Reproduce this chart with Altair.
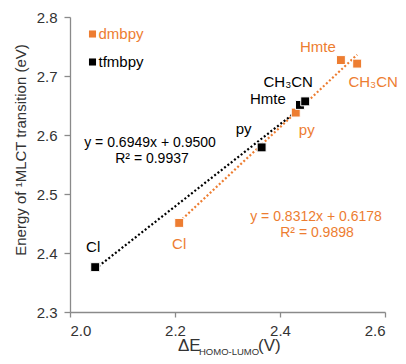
import altair as alt
import pandas as pd

series_names = ["dmbpy", "tfmbpy"]
series_colors = ["#ED7D31", "#000000"]

ligands = ["Cl", "py", "Hmte", "CH₃CN"]
dmbpy_x = [2.208, 2.430, 2.516, 2.547]
dmbpy_y = [2.451, 2.638, 2.727, 2.721]
tfmbpy_x = [2.048, 2.365, 2.438, 2.448]
tfmbpy_y = [2.376, 2.579, 2.651, 2.657]

eq_texts = {
    "tfmbpy": ["y = 0.6949x  + 0.9500", "R² = 0.9937"],
    "dmbpy": ["y = 0.8312x  + 0.6178", "R² = 0.9898"],
}

x_ticks = [2.0, 2.2, 2.4, 2.6]
y_ticks = [2.3, 2.4, 2.5, 2.6, 2.7, 2.8]

rows = []
for lig, xv, yv in zip(ligands, dmbpy_x, dmbpy_y):
    rows.append({"series": "dmbpy", "ligand": lig, "x": xv, "y": yv})
for lig, xv, yv in zip(ligands, tfmbpy_x, tfmbpy_y):
    rows.append({"series": "tfmbpy", "ligand": lig, "x": xv, "y": yv})
df = pd.DataFrame(rows)

FONT = "Liberation Sans"
W, H = 315, 295

xscale = alt.Scale(domain=[2.0, 2.6], nice=False, zero=False)
yscale = alt.Scale(domain=[2.3, 2.8], nice=False, zero=False)
cscale = alt.Scale(domain=series_names, range=series_colors)

xenc = alt.X("x:Q", scale=xscale,
             axis=alt.Axis(values=x_ticks, format=".1f", title=None, grid=False,
                           tickSize=5, labelPadding=6, labelFontSize=15,
                           labelFont=FONT, labelColor="#333333",
                           domainColor="#8a8a8a", tickColor="#8a8a8a",
                           domainWidth=1.3, tickWidth=1.3))
yenc = alt.Y("y:Q", scale=yscale,
             axis=alt.Axis(values=y_ticks, format=".1f", title=None, grid=False,
                           tickSize=6, labelPadding=7, labelFontSize=15,
                           labelFont=FONT, labelColor="#333333",
                           domainColor="#8a8a8a", tickColor="#8a8a8a",
                           domainWidth=1.3, tickWidth=1.3))

base = alt.Chart(df)

trend = base.transform_regression("x", "y", groupby=["series"]).mark_line(
    strokeWidth=2.2, strokeDash=[2, 2.2], strokeCap="butt"
).encode(x=xenc, y=yenc,
         color=alt.Color("series:N", scale=cscale, legend=None),
         detail="series:N")

points = base.mark_point(shape="square", filled=True, size=80, opacity=1,
                         stroke="white", strokeWidth=1).encode(
    x=alt.X("x:Q", scale=xscale),
    y=alt.Y("y:Q", scale=yscale),
    fill=alt.Fill("series:N", scale=cscale, legend=None),
)

label_offsets = {
    ("tfmbpy", "Cl"): (-2, -20),
    ("tfmbpy", "py"): (-18, -18),
    ("tfmbpy", "Hmte"): (-32, -6),
    ("tfmbpy", "CH₃CN"): (-17, -19),
    ("dmbpy", "Cl"): (0, 21),
    ("dmbpy", "py"): (11, 17),
    ("dmbpy", "Hmte"): (-23, -13),
    ("dmbpy", "CH₃CN"): (16, 18),
}

labels = []
for (s, lig), (dx, dy) in label_offsets.items():
    labels.append(
        base.transform_filter(
            (alt.datum.series == s) & (alt.datum.ligand == lig)
        ).mark_text(font=FONT, fontSize=15, dx=dx, dy=dy,
                    align="center", baseline="middle").encode(
            x=alt.X("x:Q", scale=xscale),
            y=alt.Y("y:Q", scale=yscale),
            text="ligand:N",
            color=alt.Color("series:N", scale=cscale, legend=None),
        )
    )

def ann(text, x, y, color, size=14, align="center", baseline="middle", angle=0):
    kw = dict(font=FONT, fontSize=size, color=color, align=align, baseline=baseline)
    if angle:
        kw["angle"] = angle
    return alt.Chart(pd.DataFrame({"t": [text]})).mark_text(**kw).encode(
        x=alt.value(x), y=alt.value(y), text="t:N")

eqs = [
    ann(eq_texts["tfmbpy"][0], 80, 126, series_colors[1]),
    ann(eq_texts["tfmbpy"][1], 82, 142, series_colors[1]),
    ann(eq_texts["dmbpy"][0], 246, 200, series_colors[0]),
    ann(eq_texts["dmbpy"][1], 247, 216, series_colors[0]),
]

# legend (drawn inside the plot, top-left)
legend = []
for name, col, ly in zip(series_names, series_colors, [17, 45]):
    legend.append(
        alt.Chart(pd.DataFrame({"t": [name]})).mark_point(
            shape="square", filled=True, size=50, opacity=1, color=col
        ).encode(x=alt.value(22.5), y=alt.value(ly))
    )
    legend.append(ann(name, 28.5, ly, col, size=15, align="left"))

titles = [
    ann("ΔE", 108, 334, "#333333", size=17, align="left", baseline="alphabetic"),
    ann("HOMO-LUMO", 129, 338, "#333333", size=9.5, align="left", baseline="alphabetic"),
    ann("(V)", 188, 334, "#333333", size=17, align="left", baseline="alphabetic"),
    ann("Energy of ¹MLCT transition (eV)", -44, 133, "#333333", size=15,
        align="center", baseline="alphabetic", angle=270),
]

chart = alt.layer(trend, points, *labels, *eqs, *legend, *titles).properties(
    width=W, height=H,
    autosize=alt.AutoSizeParams(type="none"),
    padding={"left": 62, "top": 9, "right": 13, "bottom": 44},
).configure_view(stroke=None)

chart.save("out.html", embed_options={"renderer": "svg", "actions": False})
